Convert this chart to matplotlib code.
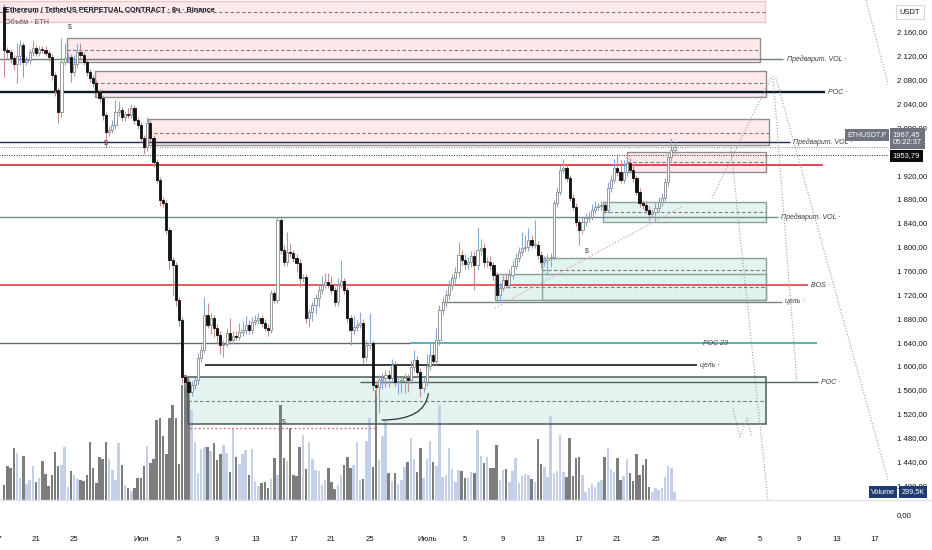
import matplotlib
matplotlib.use("Agg")
import matplotlib.pyplot as plt
import numpy as np
from matplotlib.patches import Rectangle, PathPatch
from matplotlib.path import Path
from matplotlib.lines import Line2D
import matplotlib.transforms as mtransforms
from matplotlib import font_manager

_names = {f.name for f in font_manager.fontManager.ttflist}
_fams = [f for f in ["Liberation Sans Narrow", "Liberation Sans", "DejaVu Sans"] if f in _names]
plt.rcParams["font.family"] = _fams

# ---------------- data (day 1 = 1 May) ----------------
first_open = 2202.0
closes = [
    2130, 2126, 2116, 2106, 2120, 2138, 2110, 2113, 2126, 2133,
    2125, 2131, 2130, 2125, 2118, 2088, 2063, 2026, 2110, 2116,
    2118, 2093, 2106, 2126, 2121, 2110, 2093, 2083, 2074, 2059,
    2049, 2021, 1992, 1996, 2004, 2026, 2029, 2017, 2022, 2021,
    2033, 2012, 2004, 1982, 1967, 2007, 1982, 1942, 1912, 1878,
    1873, 1828, 1778, 1769, 1711, 1677, 1581, 1573, 1556, 1568,
    1576, 1613, 1627, 1685, 1669, 1680, 1664, 1652, 1635, 1637,
    1655, 1643, 1650, 1649, 1657, 1660, 1669, 1660, 1674, 1677,
    1680, 1672, 1664, 1660, 1722, 1711, 1845, 1794, 1774, 1791,
    1789, 1781, 1773, 1747, 1749, 1680, 1690, 1702, 1714, 1727,
    1736, 1741, 1736, 1727, 1707, 1736, 1742, 1727, 1680, 1660,
    1665, 1669, 1672, 1615, 1635, 1638, 1568, 1565, 1576, 1580,
    1585, 1580, 1602, 1573, 1575, 1575, 1580, 1576, 1598, 1610,
    1590, 1563, 1573, 1600, 1618, 1608, 1643, 1694, 1707, 1719,
    1736, 1747, 1758, 1786, 1778, 1771, 1774, 1784, 1769, 1794,
    1798, 1774, 1774, 1769, 1752, 1719, 1731, 1744, 1736, 1752,
    1768, 1781, 1791, 1798, 1799, 1811, 1803, 1803, 1786, 1774,
    1778, 1781, 1783, 1873, 1892, 1929, 1932, 1915, 1882, 1867,
    1841, 1828, 1841, 1848, 1850, 1862, 1867, 1868, 1870, 1862,
    1898, 1912, 1932, 1925, 1912, 1925, 1940, 1929, 1915, 1892,
    1873, 1870, 1862, 1855, 1858, 1865, 1875, 1882, 1908, 1950,
    1962, 1967.45,
]
upper_wick = [
    5, 5, 5, 5, 22, 8, 5, 6, 6, 13,
    6, 6, 6, 6, 5, 5, 5, 5, 40, 25,
    6, 5, 15, 15, 15, 6, 5, 5, 5, 5,
    5, 5, 5, 6, 8, 20, 15, 6, 6, 10,
    6, 5, 5, 5, 5, 10, 5, 5, 5, 5,
    6, 5, 5, 5, 5, 5, 5, 5, 5, 6,
    6, 8, 8, 30, 20, 8, 6, 6, 6, 6,
    8, 25, 8, 8, 15, 15, 15, 8, 8, 8,
    8, 6, 6, 6, 6, 5, 5, 6, 8, 34,
    15, 6, 6, 6, 5, 6, 6, 6, 6, 8,
    15, 15, 15, 15, 6, 11, 36, 6, 6, 6,
    18, 8, 18, 6, 8, 50, 6, 6, 8, 8,
    8, 8, 10, 6, 6, 6, 6, 6, 12, 17,
    6, 6, 8, 20, 20, 20, 20, 8, 8, 8,
    8, 8, 8, 22, 8, 10, 8, 8, 8, 39,
    15, 8, 8, 10, 6, 6, 8, 8, 10, 10,
    10, 8, 8, 27, 20, 20, 8, 42, 6, 6,
    6, 6, 6, 5, 8, 8, 15, 6, 6, 6,
    6, 6, 8, 8, 10, 10, 10, 6, 6, 6,
    10, 8, 15, 20, 20, 20, 15, 8, 10, 6,
    6, 6, 6, 6, 6, 8, 8, 8, 8, 8,
    20, 10,
]
lower_wick = [
    45, 10, 8, 10, 32, 15, 25, 6, 6, 6,
    6, 6, 6, 6, 6, 8, 10, 19, 8, 6,
    6, 17, 6, 6, 6, 6, 6, 6, 6, 6,
    6, 8, 27, 6, 6, 6, 6, 6, 6, 6,
    6, 6, 6, 6, 12, 6, 6, 8, 6, 10,
    6, 6, 15, 50, 10, 10, 10, 6, 13, 6,
    6, 6, 6, 6, 6, 15, 15, 15, 15, 20,
    6, 6, 6, 6, 6, 6, 6, 6, 6, 6,
    6, 6, 6, 10, 5, 6, 6, 6, 6, 6,
    6, 6, 15, 15, 6, 8, 15, 15, 15, 15,
    6, 6, 6, 6, 6, 6, 6, 6, 6, 25,
    6, 6, 6, 10, 6, 6, 10, 15, 44, 15,
    15, 15, 6, 6, 20, 20, 20, 20, 6, 6,
    6, 15, 6, 6, 6, 6, 6, 8, 8, 8,
    8, 8, 8, 8, 8, 8, 8, 8, 42, 8,
    8, 8, 8, 8, 8, 12, 6, 6, 6, 6,
    6, 6, 6, 6, 6, 6, 6, 6, 6, 10,
    6, 25, 15, 6, 6, 6, 6, 6, 6, 6,
    6, 25, 6, 6, 6, 6, 6, 6, 6, 6,
    6, 6, 6, 6, 6, 6, 6, 6, 6, 6,
    6, 6, 6, 10, 6, 15, 6, 6, 6, 6,
    6, 6,
]
volume = [
    15, 34, 32, 52, 47, 22, 44, 16, 20,
    34, 18, 22, 39, 26, 14, 25, 48, 34, 35,
    53, 13, 29, 25, 21, 20, 19, 25, 58, 32,
    17, 43, 41, 58, 41, 30, 20, 57, 35, 15,
    12, 9, 12, 22, 22, 34, 54, 37, 41, 80,
    82, 64, 46, 82, 95, 82, 36, 115, 125, 110,
    90, 58, 27, 51, 53, 53, 49, 57, 40, 46,
    55, 47, 28, 71, 43, 36, 46, 50, 25, 51,
    19, 14, 17, 18, 12, 21, 42, 25, 95, 42,
    39, 72, 25, 24, 53, 65, 31, 58, 41, 30,
    29, 15, 20, 32, 18, 11, 15, 25, 35,
    43, 32, 35, 58, 20, 21, 59, 82, 33, 110,
    40, 64, 80, 27, 19, 27, 16, 20, 33,
    38, 62, 41, 28, 52, 22, 41, 59, 38, 34,
    95, 23, 25, 52, 31, 18, 30, 29, 22, 22,
    28, 27, 70, 44, 37, 43, 32, 32, 55, 20,
    30, 31, 18, 29, 42, 17, 24, 26, 25,
    21, 18, 61, 36, 33, 23, 84, 27, 29, 65,
    28, 23, 62, 24, 42, 43, 25, 8, 12, 16,
    13, 18, 20, 43, 52, 31, 28, 42, 20, 24,
    41, 27, 19, 46, 25, 35, 41, 13, 8, 12,
    10, 12, 23, 34, 32, 8,
]
volume_pane_scale = 500          # volume units filling the whole pane height
last_candle_day = 88.0           # 27 Jul, 00:00
candle_step = 1.0 / 3.0          # 8h candles
last_price = 1967.45
marked_price = 1953.79
countdown = "05:22:37"
last_volume_text = "299,5K"

price_ticks = [2160, 2120, 2080, 2040, 2000, 1920, 1880, 1840, 1800, 1760, 1720, 1680, 1640,
               1600, 1560, 1520, 1480, 1440, 1400]
time_tick_days = [21, 25, 32, 36, 40, 44, 48, 52, 56, 62, 66, 70, 74, 78, 82, 86, 93, 97, 101, 105, 109]
time_tick_labels = ["21", "25", "Июн", "5", "9", "13", "17", "21", "25", "Июль", "5", "9", "13", "17",
                    "21", "25", "Авг", "5", "9", "13", "17"]
cut_tick_day = 17
cut_tick_label = "17"

# zones (drawn rectangles)
zone_start = [15.0, 24.25, 27.19, 32.75, 83.01, 80.49, 74.09, 69.16, 36.94]
zone_end = [97.49, 96.97, 97.59, 97.91, 97.59, 97.59, 97.59, 97.59, 97.59]
zone_low = [2176.8, 2109.7, 2051.0, 1970.5, 1925.2, 1841.4, 1710.6, 1710.6, 1502.6]
zone_high = [2212.0, 2150.0, 2094.6, 2014.1, 1958.8, 1874.9, 1781.0, 1754.2, 1582.0]
zone_mid = [2193.5, 2129.8, 2074.5, 1990.6, 1942.0, 1858.1, 1760.9, 1733.0, 1542.0]
zone_kind = ["supply0", "supply", "supply", "supply", "supply", "demand", "demand", "demand", "demandbig"]

# horizontal levels
level_price = [2114.7, 2059.4, 1975.5, 1936.5, 1849.8, 1735.7, 1707.8, 1638.0, 1638.0, 1601.5, 1573.0]
level_start = [15.0, 15.0, 15.0, 15.0, 15.0, 15.0, 63.6, 15.0, 60.24, 38.73, 54.99]
level_end = [99.4, 103.79, 100.11, 103.58, 98.85, 102.0, 99.27, 60.24, 102.95, 90.35, 103.05]
level_label = ["Предварит. VOL", "POC", "Предварит. VOL", "", "Предварит. VOL", "BOS", "цель", "",
               "POC 23", "цель", "POC"]
level_color = ["#6f7d7d", "#0f1c2c", "#1b2a4e", "#e8344a", "#6f8c88", "#e0424f", "#7a7f7f", "#5f6b6b",
               "#3aa6a6", "#2a2e2e", "#4f6363"]
level_width = [1.0, 1.7, 1.0, 1.3, 1.0, 1.2, 1.0, 1.0, 1.2, 1.3, 1.0]

# projection (dotted) paths
proj_days = [[98.64, 110.6], [98.33, 100.85], [98.12, 91.93], [93.92, 97.80], [108.09, 110.92],
             [94.13, 94.87, 95.60, 96.13]]
proj_prices = [[2082.9, 1397.0], [2086.2, 1571.4], [2082.9, 1881.6], [1965.5, 1375.2], [2213.7, 2040.9],
               [1529.5, 1480.8, 1512.7, 1480.8]]
trend_days = [69.16, 88.89]
trend_prices = [1697.2, 1868.2]
support_days = [37.15, 56.78]
support_prices = [1496.0, 1496.0]
arc_days = [57.28, 61.82, 62.17]
arc_prices = [1509.3, 1509.3, 1554.1]
mark_days = [24.56, 28.34, 47.02, 78.81]
mark_prices = [2168.4, 1973.9, 1506.0, 1792.7]

# ---------------- derived ----------------
n = len(closes)
days = last_candle_day - candle_step * np.arange(n - 1, -1, -1)
closes_a = np.array(closes, dtype=float)
opens_a = np.concatenate([[first_open], closes_a[:-1]])
up = closes_a >= opens_a
highs = np.maximum(opens_a, closes_a) + np.array(upper_wick)
lows = np.minimum(opens_a, closes_a) - np.array(lower_wick)
vol = np.array(volume[:n], dtype=float)


def fmt_axis(p):
    return f"{p:,.2f}".replace(",", " ").replace(".", ",")


def fmt_plain(p):
    return f"{p:.2f}".replace(".", ",")


W, H = 932, 550
fig = plt.figure(figsize=(W / 100, H / 100), dpi=100)
fig.patch.set_facecolor("white")
ax = fig.add_axes([0, 50 / H, 888 / W, 500 / H])
ax2 = fig.add_axes([0, 20 / H, 888 / W, 30 / H])
XL = (17.22, 110.4)
YL = (1375.2, 2213.7)

TXT = "#131722"
FS_AX = 5.6
FS_LBL = 5.0

# zones
for d0, d1, lo, hi, mid, kind in zip(zone_start, zone_end, zone_low, zone_high, zone_mid, zone_kind):
    if kind.startswith("supply"):
        fc = "#fde6e6"
        ec = "#f3c4c4" if kind == "supply0" else "#8f8f8f"
    else:
        fc = "#dff2ee"
        ec = "#4f5a5a" if kind == "demandbig" else "#86a09c"
    ax.add_patch(Rectangle((d0, lo), d1 - d0, hi - lo, facecolor=fc, edgecolor="none", zorder=1, alpha=0.85))
    ax.add_patch(Rectangle((d0, lo), d1 - d0, hi - lo, facecolor="none", edgecolor=ec,
                           lw=1.1 if kind == "demandbig" else 1.0, zorder=2))
    ax.hlines(mid, d0, d1, colors="#7a7a7a", lw=0.8, linestyles=(0, (3, 2.2)), zorder=2)

# volume bars (bottom of pane)
vcolors = np.where(up, "#c4cfe8", "#7d7d7d")
ax.bar(days, vol / volume_pane_scale, width=0.26, bottom=0, color=vcolors,
       transform=ax.get_xaxis_transform(), zorder=1.5, linewidth=0)

# levels
for p, d0, d1, lab, c, lw in zip(level_price, level_start, level_end, level_label, level_color, level_width):
    ax.hlines(p, d0, d1, colors=c, lw=lw, zorder=2.2)
    if lab == "POC 23":
        ax.text(92.3, p, lab, fontsize=FS_LBL, style="italic", color="#444", va="center", ha="center", zorder=2.3)
    elif lab:
        ax.text(d1 + 0.35, p, lab + " ·", fontsize=FS_LBL, style="italic", color="#3a3a3a", va="center",
                ha="left", zorder=2.3)

# current price lines
ax.hlines(last_price, 15, 112, colors="#8a8a8a", lw=0.7, linestyles=(0, (1, 1.5)), zorder=2.1)
ax.hlines(marked_price, 15, 112, colors="#222222", lw=0.7, linestyles=(0, (1, 1.5)), zorder=2.1)

# projections & drawings
for xs, ys in zip(proj_days, proj_prices):
    ax.plot(xs, ys, color="#a0a0a0", lw=0.8, ls=(0, (1, 1.6)), zorder=2.4)
ax.plot(trend_days, trend_prices, color="#d9a3ab", lw=0.9, ls=(0, (1, 1.6)), zorder=2.4)
ax.plot(support_days, support_prices, color="#d06a6a", lw=1.0, ls=(0, (1.2, 1.8)), zorder=2.4)
arc = Path(list(zip(arc_days, arc_prices)), [Path.MOVETO, Path.CURVE3, Path.CURVE3])
ax.add_patch(PathPatch(arc, facecolor="none", edgecolor="#333333", lw=0.9, zorder=2.5))
for dx, py in zip(mark_days, mark_prices):
    ax.text(dx, py, "\\$", fontsize=5.0, color="#444", ha="center", va="center", zorder=3.5)

# candles
wick_c = np.where(up, "#86a6de", "#c98a8a")
ax.vlines(days, lows, highs, colors=wick_c, lw=0.8, zorder=2.9)
body_lo = np.minimum(opens_a, closes_a)
body_h = np.maximum(np.abs(closes_a - opens_a), 1.2)
ax.bar(days[up], body_h[up], bottom=body_lo[up], width=0.23, color="white", edgecolor="#8a8a8a",
       linewidth=0.6, zorder=3)
ax.bar(days[~up], body_h[~up], bottom=body_lo[~up], width=0.23, color="#111111", edgecolor="#111111",
       linewidth=0.6, zorder=3)

ax.set_xlim(*XL)
ax.set_ylim(*YL)
for s in ax.spines.values():
    s.set_visible(False)
ax.set_xticks([])
ax.yaxis.tick_right()
ax.set_yticks(price_ticks)
ax.set_yticklabels([fmt_axis(p) for p in price_ticks])
ax.tick_params(axis="y", length=0, pad=6.5, labelsize=FS_AX, labelcolor=TXT)

# bottom pane with time axis
ax2.set_xlim(*XL)
ax2.set_ylim(-1, 1)
for s in ax2.spines.values():
    s.set_visible(False)
ax2.yaxis.tick_right()
ax2.set_yticks([0])
ax2.set_yticklabels(["0,00"])
ax2.tick_params(axis="y", length=0, pad=6.5, labelsize=FS_AX, labelcolor=TXT)
ax2.set_xticks(time_tick_days)
ax2.set_xticklabels(time_tick_labels)
ax2.tick_params(axis="x", length=0, pad=4.5, labelsize=FS_AX, labelcolor=TXT)
ax2.text(cut_tick_day, -0.21, cut_tick_label, transform=ax2.get_xaxis_transform(), fontsize=FS_AX,
         color=TXT, ha="center", va="top", clip_on=False)
fig.add_artist(Line2D([0, 1], [50 / H, 50 / H], color="#e0e3eb", lw=1.0, transform=fig.transFigure))

# header texts
fig.text(5 / W, 1 - 10 / H, "Ethereum / TetherUS PERPETUAL CONTRACT · 8ч · Binance", fontsize=5.2,
         fontweight="bold", color=TXT, va="center", ha="left")
fig.text(5 / W, 1 - 22 / H, "Объём · ETH", fontsize=5.2, color="#555", va="center", ha="left")
fig.text(910 / W, 1 - 12 / H, "USDT", fontsize=5.4, color=TXT, va="center", ha="center",
         bbox=dict(boxstyle="square,pad=0.5", fc="white", ec="#d6d8de", lw=0.8))

# price labels on scale
bt = mtransforms.blended_transform_factory(ax.transAxes, ax.transData)
ax.annotate(fmt_plain(last_price) + "\n" + countdown,
            xy=(1.0, last_price), xycoords=bt, xytext=(3.5, 11.5), textcoords="offset points",
            fontsize=5.4, color="white", va="top", ha="left", linespacing=1.3,
            bbox=dict(boxstyle="square,pad=0.35", fc="#6f7480", ec="none"), annotation_clip=False, zorder=10)
ax.annotate("ETHUSDT.P", xy=(1.0, last_price), xycoords=bt, xytext=(-1.0, 11.0), textcoords="offset points",
            fontsize=5.0, color="white", va="top", ha="right",
            bbox=dict(boxstyle="square,pad=0.35", fc="#6f7480", ec="none"), annotation_clip=False, zorder=10)
ax.annotate(fmt_plain(marked_price), xy=(1.0, marked_price), xycoords=bt,
            xytext=(3.5, -0.5), textcoords="offset points", fontsize=5.4, color="white", va="center", ha="left",
            bbox=dict(boxstyle="square,pad=0.35", fc="#0b0b0b", ec="none"), annotation_clip=False, zorder=10)
fig.text(883 / W, 1 - 492 / H, "Volume", fontsize=5.2, color="white", va="center", ha="center",
         bbox=dict(boxstyle="square,pad=0.3", fc="#1f3c73", ec="none"), zorder=10)
fig.text(913 / W, 1 - 492 / H, last_volume_text, fontsize=5.2, color="white", va="center", ha="center",
         bbox=dict(boxstyle="square,pad=0.3", fc="#1f3c73", ec="none"), zorder=10)

fig.savefig("out.png", dpi=100, facecolor="white")
